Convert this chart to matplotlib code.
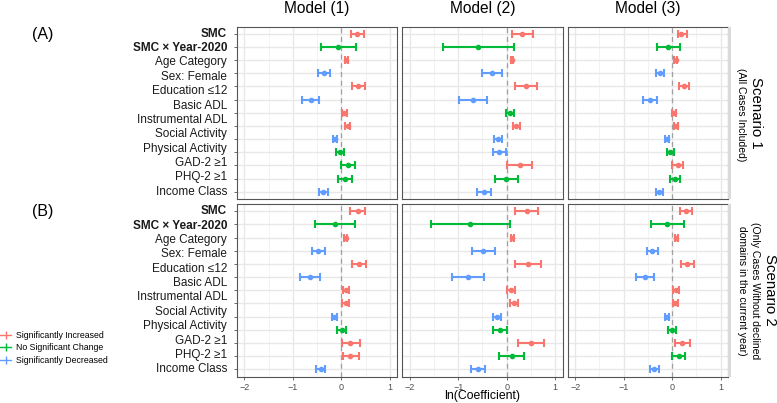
import numpy as np
import matplotlib.pyplot as plt
from matplotlib.lines import Line2D
from matplotlib.patches import Rectangle
from matplotlib.transforms import blended_transform_factory

plt.rcParams['font.family'] = ['Liberation Sans', 'DejaVu Sans']

models = ["Model (1)", "Model (2)", "Model (3)"]
scenario_titles = ["Scenario 1", "Scenario 2"]
scenario_notes = [["(All Cases Included)"],
                  ["(Only Cases Without declined", "domains in the current year)"]]
panel_tags = ["(A)", "(B)"]

# 12 row labels as printed on the figure (13 estimate rows per panel)
labels = ["SMC", "SMC \u00d7 Year-2020", "Age Category", "Sex: Female",
          "Education \u226412", "Basic ADL", "Instrumental ADL", "Social Activity",
          "Physical Activity", "GAD-2 \u22651", "PHQ-2 \u22651", "Income Class"]
bold_labels = ["SMC", "SMC \u00d7 Year-2020"]

status_names = {"I": "Significantly Increased", "N": "No Significant Change",
                "D": "Significantly Decreased"}
status_colors = {"I": "#F8766D", "N": "#00BA38", "D": "#619CFF"}

# Scenario 1
s1_m1_est = [0.33, -0.06, 0.10, -0.36, 0.35, -0.63, 0.06, 0.14, -0.13, -0.02, 0.14, 0.08, -0.37]
s1_m1_lo = [0.21, -0.41, 0.07, -0.48, 0.23, -0.82, 0.01, 0.08, -0.18, -0.10, -0.01, -0.06, -0.45]
s1_m1_hi = [0.46, 0.30, 0.13, -0.23, 0.49, -0.45, 0.11, 0.19, -0.08, 0.06, 0.29, 0.23, -0.28]
s1_m1_sig = list("INIDIDIIDNNND")

s1_m2_est = [0.32, -0.60, 0.10, -0.31, 0.39, -0.70, 0.07, 0.19, -0.18, -0.16, 0.27, -0.01, -0.47]
s1_m2_lo = [0.10, -1.32, 0.08, -0.51, 0.16, -0.99, -0.01, 0.12, -0.26, -0.28, 0.01, -0.25, -0.61]
s1_m2_hi = [0.54, 0.14, 0.13, -0.10, 0.62, -0.41, 0.14, 0.28, -0.10, -0.01, 0.53, 0.24, -0.33]
s1_m2_sig = list("INIDIDNIDDIND")

s1_m3_est = [0.19, -0.08, 0.07, -0.25, 0.25, -0.46, 0.035, 0.08, -0.10, -0.04, 0.11, 0.06, -0.27]
s1_m3_lo = [0.11, -0.32, 0.04, -0.34, 0.14, -0.60, 0.00, 0.03, -0.14, -0.10, 0.00, -0.05, -0.33]
s1_m3_hi = [0.30, 0.17, 0.10, -0.16, 0.35, -0.31, 0.07, 0.12, -0.06, 0.03, 0.23, 0.17, -0.20]
s1_m3_sig = list("INIDIDIIDNIND")

# Scenario 2
s2_m1_est = [0.34, -0.13, 0.10, -0.48, 0.37, -0.65, 0.09, 0.09, -0.14, 0.01, 0.19, 0.19, -0.42]
s2_m1_lo = [0.19, -0.55, 0.06, -0.61, 0.22, -0.86, 0.03, 0.02, -0.19, -0.08, 0.01, 0.03, -0.52]
s2_m1_hi = [0.49, 0.28, 0.12, -0.33, 0.50, -0.43, 0.16, 0.15, -0.08, 0.09, 0.38, 0.36, -0.33]
s2_m1_sig = list("INIDIDIIDNIID")

s2_m2_est = [0.41, -0.75, 0.11, -0.48, 0.43, -0.79, 0.09, 0.15, -0.21, -0.13, 0.50, 0.10, -0.59]
s2_m2_lo = [0.18, -1.56, 0.08, -0.72, 0.18, -1.12, 0.01, 0.07, -0.29, -0.28, 0.23, -0.16, -0.74]
s2_m2_hi = [0.65, 0.06, 0.14, -0.25, 0.70, -0.46, 0.17, 0.24, -0.12, 0.01, 0.77, 0.36, -0.44]
s2_m2_sig = list("INIDIDIIDNIND")

s2_m3_est = [0.29, -0.10, 0.08, -0.41, 0.31, -0.56, 0.08, 0.06, -0.10, -0.01, 0.21, 0.13, -0.37]
s2_m3_lo = [0.16, -0.44, 0.06, -0.53, 0.18, -0.74, 0.02, 0.01, -0.15, -0.08, 0.05, -0.01, -0.46]
s2_m3_hi = [0.41, 0.25, 0.11, -0.29, 0.44, -0.38, 0.14, 0.12, -0.06, 0.07, 0.36, 0.27, -0.28]
s2_m3_sig = list("INIDIDIIDNIND")

panels = [[(s1_m1_est, s1_m1_lo, s1_m1_hi, s1_m1_sig),
           (s1_m2_est, s1_m2_lo, s1_m2_hi, s1_m2_sig),
           (s1_m3_est, s1_m3_lo, s1_m3_hi, s1_m3_sig)],
          [(s2_m1_est, s2_m1_lo, s2_m1_hi, s2_m1_sig),
           (s2_m2_est, s2_m2_lo, s2_m2_hi, s2_m2_sig),
           (s2_m3_est, s2_m3_lo, s2_m3_hi, s2_m3_sig)]]

W, H = 777, 403
fig, axes = plt.subplots(2, 3, figsize=(W / 100, H / 100), dpi=100)
fig.subplots_adjust(left=237 / W, right=728 / W, top=1 - 26.5 / H, bottom=1 - 376.5 / H,
                    wspace=0.034, hspace=0.029)

n_rows = len(s1_m1_est)
rows = np.arange(n_rows)

for r in range(2):
    for c in range(3):
        ax = axes[r, c]
        est, lo, hi, sig = panels[r][c]
        est = np.array(est)
        lo = np.array(lo)
        hi = np.array(hi)
        ax.set_xlim(-2.15, 1.15)
        ax.set_ylim(n_rows - 1 + 0.55, -0.55)
        ax.set_xticks([-2, -1, 0, 1])
        ax.set_xticks([-1.5, -0.5, 0.5], minor=True)
        ax.set_yticks(rows)
        ax.grid(True, which='major', color='#E8E8E8', lw=1.0, zorder=0)
        ax.grid(True, which='minor', axis='x', color='#F0F0F0', lw=0.6, zorder=0)
        ax.set_axisbelow(True)
        ax.axvline(0, color='#A0A0A0', ls=(0, (4, 3)), lw=0.9, zorder=1)
        for key in ["I", "N", "D"]:
            m = np.array([s == key for s in sig])
            if not m.any():
                continue
            ax.errorbar(est[m], rows[m], xerr=[est[m] - lo[m], hi[m] - est[m]],
                        fmt='o', color=status_colors[key], ms=3, lw=1.5,
                        capsize=3, capthick=1.5, zorder=3)
        for sp in ax.spines.values():
            sp.set_color('#555555')
            sp.set_linewidth(0.8)
        ax.tick_params(axis='both', which='major', length=2.5, width=0.6, color='#555555',
                       labelsize=6.5, labelcolor='#4D4D4D', pad=2)
        ax.tick_params(axis='x', which='minor', length=0)
        ax.set_yticklabels([])
        if r == 0:
            ax.tick_params(axis='x', length=0)
            ax.set_xticklabels([])
        if c > 0:
            ax.tick_params(axis='y', length=0)
        if c == 0:
            trans = blended_transform_factory(ax.transAxes, ax.transData)
            ypos = np.linspace(0, n_rows - 1, len(labels))
            for lab, yy in zip(labels, ypos):
                ax.text(-0.062, yy, lab, transform=trans, ha='right', va='center',
                        fontsize=8.5, color='#1A1A1A',
                        fontweight='bold' if lab in bold_labels else 'normal')

for c, name in enumerate(models):
    bb = axes[0, c].get_position()
    fig.text((bb.x0 + bb.x1) / 2, 1 - 13 / H, name, ha='center', va='baseline', fontsize=11.2)

for r in range(2):
    bb = axes[r, 2].get_position()
    fig.add_artist(Rectangle((728 / W, bb.y0), 2.5 / W, bb.y1 - bb.y0,
                             transform=fig.transFigure, color='#D9D9D9', lw=0))
    fig.text(42.5 / W, bb.y1 - 7.5 / H, panel_tags[r], ha='center',
             va='center', fontsize=11.5)

# strip texts on the right
fig.text(756 / W, 1 - 112.5 / H, scenario_titles[0], rotation=270, ha='center',
         va='center', fontsize=10.8)
fig.text(741 / W, 1 - 115 / H, scenario_notes[0][0], rotation=270, ha='center',
         va='center', fontsize=7.5)
fig.text(770 / W, 1 - 290 / H, scenario_titles[1], rotation=270, ha='center',
         va='center', fontsize=10.8)
fig.text(755 / W, 1 - 291 / H, scenario_notes[1][0], rotation=270, ha='center',
         va='center', fontsize=7.5)
fig.text(742 / W, 1 - 291 / H, scenario_notes[1][1], rotation=270, ha='center',
         va='center', fontsize=7.5)

bb = axes[1, 1].get_position()
fig.text((bb.x0 + bb.x1) / 2, 1 - 399.5 / H, "ln(Coefficient)", ha='center',
         va='baseline', fontsize=8.8)

handles = [Line2D([0], [0], color=status_colors[k], marker='|', ms=6, mew=1, lw=1)
           for k in ["I", "N", "D"]]
fig.legend(handles, [status_names[k] for k in ["I", "N", "D"]], loc='center left',
           bbox_to_anchor=(0.0, 1 - 348 / H), frameon=False, fontsize=6.3,
           handlelength=1.3, handletextpad=0.55, labelspacing=0.35, borderpad=0,
           borderaxespad=0)

fig.savefig("out.png", dpi=100)
